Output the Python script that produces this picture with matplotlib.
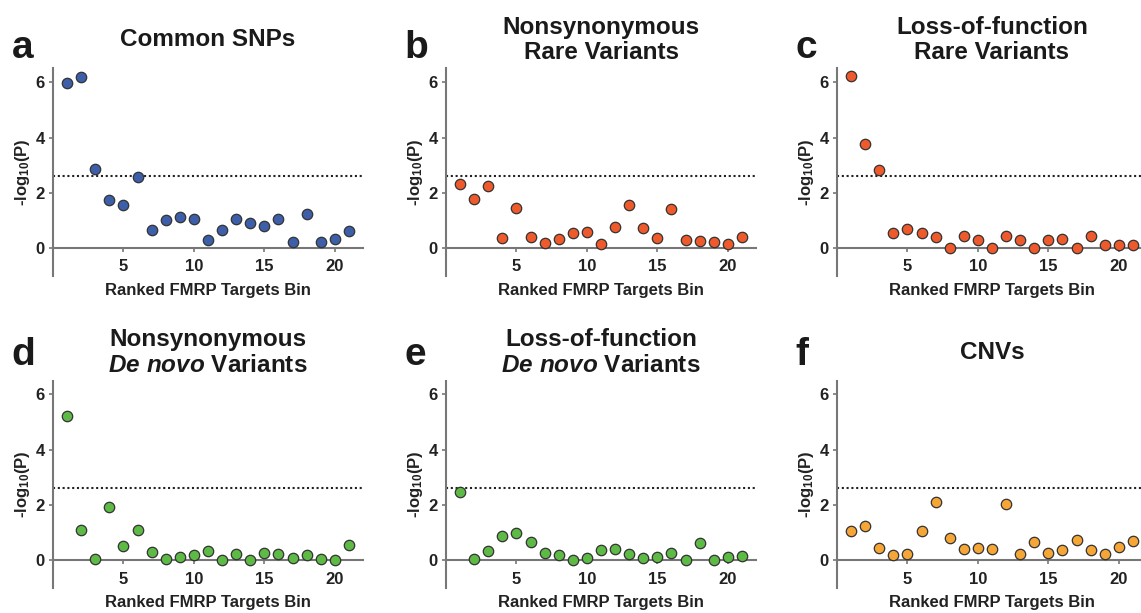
import matplotlib
matplotlib.use("Agg")
import matplotlib.pyplot as plt
import numpy as np

plt.rcParams['font.family'] = ['Liberation Sans', 'DejaVu Sans']
plt.rcParams['font.weight'] = 'bold'
plt.rcParams['axes.labelweight'] = 'bold'
plt.rcParams['mathtext.fontset'] = 'custom'
plt.rcParams['mathtext.rm'] = 'Liberation Sans:bold'
plt.rcParams['mathtext.bf'] = 'Liberation Sans:bold'
plt.rcParams['mathtext.it'] = 'Liberation Sans:italic:bold'

bins = np.arange(1, 22)

common_snps = [5.98, 6.18, 2.87, 1.76, 1.57, 2.59, 0.67, 1.01, 1.12, 1.04, 0.28,
               0.65, 1.06, 0.90, 0.81, 1.05, 0.22, 1.24, 0.24, 0.35, 0.61]
nonsyn_rare = [2.31, 1.77, 2.24, 0.36, 1.46, 0.42, 0.18, 0.33, 0.55, 0.58, 0.16,
               0.77, 1.58, 0.72, 0.36, 1.41, 0.29, 0.25, 0.24, 0.17, 0.42]
lof_rare = [6.22, 3.78, 2.81, 0.54, 0.70, 0.54, 0.41, 0.00, 0.45, 0.29, 0.00,
            0.43, 0.30, 0.02, 0.30, 0.34, 0.02, 0.43, 0.13, 0.13, 0.12]
nonsyn_denovo = [5.23, 1.10, 0.05, 1.93, 0.52, 1.11, 0.29, 0.04, 0.13, 0.18, 0.33,
                 0.01, 0.24, 0.02, 0.27, 0.22, 0.10, 0.19, 0.04, 0.01, 0.57]
lof_denovo = [2.46, 0.06, 0.34, 0.88, 0.99, 0.66, 0.28, 0.18, 0.00, 0.07, 0.39,
              0.42, 0.25, 0.10, 0.13, 0.27, 0.02, 0.63, 0.00, 0.13, 0.17]
cnvs = [1.07, 1.24, 0.45, 0.21, 0.24, 1.05, 2.13, 0.82, 0.40, 0.46, 0.41,
        2.03, 0.24, 0.66, 0.28, 0.39, 0.75, 0.36, 0.23, 0.47, 0.71]

threshold = -np.log10(0.05 / 21)

panels = [
    ('a', 'Common SNPs', common_snps, '#3d5ea8'),
    ('b', 'Nonsynonymous\nRare Variants', nonsyn_rare, '#ee5a2c'),
    ('c', 'Loss-of-function\nRare Variants', lof_rare, '#ee5a2c'),
    ('d', 'Nonsynonymous\n$De\\ novo$ Variants', nonsyn_denovo, '#5cba45'),
    ('e', 'Loss-of-function\n$De\\ novo$ Variants', lof_denovo, '#5cba45'),
    ('f', 'CNVs', cnvs, '#f6a537'),
]

W, H = 1141, 613
fig = plt.figure(figsize=(W / 100, H / 100), dpi=100)

lefts = [53, 446, 837]
tops = [68.4, 380.6]
aw, ah = 310, 207.5

for i, (letter, title, vals, col) in enumerate(panels):
    row, c = divmod(i, 3)
    l, t = lefts[c], tops[row]
    ax = fig.add_axes([l / W, 1 - (t + ah) / H, aw / W, ah / H])
    ax.set_xlim(0, 22)
    ax.set_ylim(-1, 6.5)
    ax.axhline(threshold, color='#222222', linestyle=(0, (1, 1.3)), linewidth=1.5, zorder=1)
    ax.plot(bins, vals, 'o', markersize=7.5, markerfacecolor=col,
            markeredgecolor='#333333', markeredgewidth=0.9, clip_on=False, zorder=3)
    for s in ['top', 'right']:
        ax.spines[s].set_visible(False)
    ax.spines['bottom'].set_position(('data', 0))
    for s in ['left', 'bottom']:
        ax.spines[s].set_color('#777777')
        ax.spines[s].set_linewidth(1.5)
    ax.set_xticks([5, 10, 15, 20])
    ax.set_yticks([0, 2, 4, 6])
    ax.tick_params(axis='both', colors='#777777', labelcolor='#222222',
                   labelsize=12, length=3, width=1.2)
    ax.tick_params(axis='x', pad=5)
    ax.tick_params(axis='y', pad=3)
    ax.set_xlabel('Ranked FMRP Targets Bin', fontsize=12, color='#222222')
    ax.xaxis.set_label_coords(0.5, -0.071)
    ax.xaxis.label.set_va('center')
    ax.set_ylabel('-log$_{10}$(P)', fontsize=12, color='#222222')
    ax.yaxis.set_label_coords(-0.097, 0.5)
    ax.yaxis.label.set_va('center')
    ax.text(0.5, 1.137, title, transform=ax.transAxes, ha='center', va='center',
            fontsize=17.5, color='#1a1a1a', linespacing=1.15)
    ax.text(-0.133, 1.05 if row == 0 else 1.075, letter, transform=ax.transAxes,
            ha='left', va='baseline', fontsize=28, color='#1a1a1a')

fig.savefig('out.png', dpi=100)
